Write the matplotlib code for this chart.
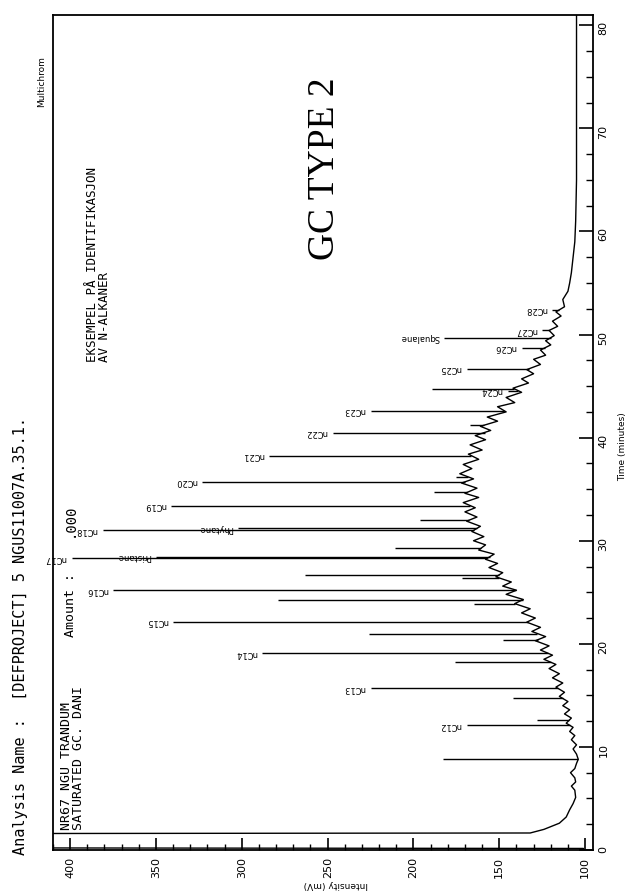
import numpy as np
import matplotlib.pyplot as plt
from matplotlib.ticker import MultipleLocator

# Chromatogram baseline (time in min, intensity in mV), read along the hump
base_t = [0.0, 0.15, 0.2, 1.6, 1.65, 2.0, 2.6, 3.2, 3.9, 4.5, 5.1, 5.8, 6.2, 6.6, 7.0, 7.5, 7.9,
          8.4, 8.8, 9.3, 9.8, 10.2, 10.7, 11.1, 11.5, 11.9, 12.3, 12.8, 13.2, 13.6, 14.0, 14.4,
          14.9, 15.3, 15.8, 16.2, 16.7, 17.1, 17.6, 18.0, 18.5, 18.9, 19.4, 19.8, 20.3, 20.7,
          21.2, 21.6, 22.1, 22.5, 23.0, 23.4, 23.9, 24.3, 24.8, 25.2, 25.6, 26.0, 26.5, 26.9,
          27.4, 27.8, 28.2, 28.7, 29.1, 29.6, 30.0, 30.4, 30.9, 31.4, 31.9, 32.3, 32.8, 33.2,
          33.7, 34.2, 34.6, 35.1, 35.6, 36.0, 36.5, 37.0, 37.4, 37.9, 38.4, 38.8, 39.3, 39.8,
          40.2, 40.7, 41.1, 41.6, 42.0, 42.5, 43.0, 43.4, 43.9, 44.4, 44.8, 45.3, 45.7, 46.2,
          46.6, 47.1, 47.6, 48.0, 48.5, 49.0, 49.4, 49.9, 50.4, 50.8, 51.3, 51.8, 52.2, 52.7,
          53.4, 54.2, 55.0, 56.0, 57.5, 59.0, 61.0, 65.0, 70.0, 75.0, 81.0]
base_i = [101, 101, 420, 420, 132, 124, 115, 111, 109, 107, 105.5, 106, 108, 105.5, 106, 108.5, 106,
          105, 104, 105, 107, 105, 108, 106, 109, 107, 111, 108, 112, 109, 113, 110,
          115, 112, 117, 113, 119, 115, 121, 117, 124, 119, 126, 121, 129, 123,
          131, 126, 134, 129, 137, 132, 141, 136, 146, 140, 148, 143, 152, 148,
          156, 151, 158, 153, 162, 158, 165, 159, 166, 161, 169, 163, 170, 164,
          171, 162, 170, 163, 172, 165, 173, 166, 171, 162, 168, 160, 167, 158,
          164, 155, 161, 151, 157, 146, 151, 141, 146, 137, 142, 133, 137, 130,
          134, 126, 130, 123, 126, 120, 123, 118, 121, 116, 119, 114, 117, 112,
          113, 110, 109, 108, 107, 106, 105.5, 105, 105, 105, 105]

# Resolved peaks: retention time, apex intensity, label
peak_t = [8.8, 12.1, 12.6, 14.7, 15.7, 18.2, 19.1, 20.4, 21.0, 22.15, 23.9, 24.3, 25.2, 26.4,
          26.7, 28.3, 28.45, 29.3, 31.0, 31.2, 32.0, 33.4, 34.7, 35.7, 36.2, 38.25, 40.5, 41.2,
          42.6, 44.55, 44.75, 46.7, 48.7, 49.7, 50.4, 52.4]
peak_i = [183, 169, 128, 142, 225, 176, 288, 148, 226, 340, 165, 279, 375, 172,
          263, 399, 350, 211, 381, 302, 196, 341, 188, 323, 175, 284, 247, 167,
          225, 145, 189, 169, 137, 182, 125, 119]
peak_lab = ['', 'nC12', '', '', 'nC13', '', 'nC14', '', '', 'nC15', '', '', 'nC16', '',
            '', 'nC17', 'Pristane', '', 'nC18', 'Phytane', '', 'nC19', '', 'nC20', '', 'nC21', 'nC22', '',
            'nC23', 'nC24', '', 'nC25', 'nC26', 'Squalane', 'nC27', 'nC28']

W, H = 633, 893
fig = plt.figure(figsize=(W / 100, H / 100), dpi=100)
fig.patch.set_facecolor('white')


def fx(x):
    return x / W


def fy(y):
    return 1 - y / H


# the page is printed sideways: intensity runs horizontally (reversed), time upwards
ax = fig.add_axes([fx(53), fy(850), fx(593) - fx(53), fy(15) - fy(850)])
ax.set_xlim(410, 95.4)
ax.set_ylim(0, 81)

ax.plot(base_i, base_t, color='black', lw=1.0)
foot = np.interp(peak_t, base_t, base_i)
ax.hlines(peak_t, peak_i, foot, color='black', lw=1.0)

for t, i, lab in zip(peak_t, peak_i, peak_lab):
    if lab:
        ax.text(i + 3, t, lab, rotation=180, ha='right', va='center',
                fontsize=6, family='DejaVu Sans')

for s in ax.spines.values():
    s.set_linewidth(1.3)

ax.xaxis.set_major_locator(MultipleLocator(50))
ax.xaxis.set_minor_locator(MultipleLocator(10))
ax.yaxis.set_major_locator(MultipleLocator(10))
ax.yaxis.set_minor_locator(MultipleLocator(2.5))
ax.yaxis.tick_right()
ax.tick_params(axis='x', which='major', direction='in', length=9, width=1.2, pad=5,
               labelsize=8, labelrotation=90)
ax.tick_params(axis='x', which='minor', direction='in', length=4, width=1.0)
ax.tick_params(axis='y', which='major', direction='in', length=10, width=1.2, pad=4,
               labelsize=8, labelrotation=90)
ax.tick_params(axis='y', which='minor', direction='in', length=5, width=1.0)
ax.set_xticks(np.arange(100, 401, 50))
for lb in ax.get_xticklabels() + ax.get_yticklabels():
    lb.set_family('DejaVu Sans')

# page annotations
fig.text(fx(21), fy(855), 'Analysis Name :  [DEFPROJECT] 5 NGUS11007A.35.1.', rotation=90,
         ha='center', va='bottom', family='DejaVu Sans Mono', fontsize=11)
fig.text(fx(42), fy(107), 'Multichrom', rotation=90, ha='center', va='bottom',
         family='DejaVu Sans', fontsize=6.5)
fig.text(fx(66), fy(830), 'NR67 NGU TRANDUM', rotation=90, ha='center', va='bottom',
         family='DejaVu Sans Mono', fontsize=9.5)
fig.text(fx(79), fy(830), 'SATURATED GC. DANI', rotation=90, ha='center', va='bottom',
         family='DejaVu Sans Mono', fontsize=9.5)
fig.text(fx(70), fy(637), 'Amount :', rotation=90, ha='center', va='bottom',
         family='DejaVu Sans Mono', fontsize=9.5)
fig.text(fx(70), fy(537), '.000', rotation=90, ha='center', va='bottom',
         family='DejaVu Sans Mono', fontsize=10)
fig.text(fx(92), fy(362), 'EKSEMPEL PÅ IDENTIFIKASJON', rotation=90, ha='center', va='bottom',
         family='DejaVu Sans Mono', fontsize=9)
fig.text(fx(105), fy(362), 'AV N-ALKANER', rotation=90, ha='center', va='bottom',
         family='DejaVu Sans Mono', fontsize=9)
fig.text(fx(325), fy(260), 'GC TYPE 2', rotation=90, ha='center', va='bottom',
         family='Liberation Serif', fontsize=27)
fig.text(fx(336), fy(885), 'Intensity (mV)', rotation=180, ha='center', va='center',
         family='DejaVu Sans', fontsize=6.5)
fig.text(fx(623), fy(447), 'Time (minutes)', rotation=90, ha='center', va='center',
         family='DejaVu Sans', fontsize=6.5)

fig.savefig('out.png', dpi=100)
